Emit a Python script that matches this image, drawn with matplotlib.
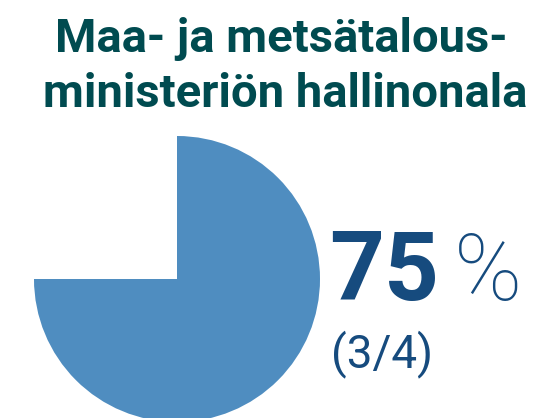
import matplotlib.pyplot as plt

plt.rcParams['font.family'] = ['Roboto', 'DejaVu Sans']

title_lines = ["Maa- ja metsätalous-", "ministeriön hallinonala"]
filled = 3
total = 4
pct_label = "75"
frac_label = "(3/4)"

W, H = 543, 418
fig = plt.figure(figsize=(W / 100, H / 100), dpi=100)

# pie axes: centre (177, 279) px, radius 143 px
cx, cy, r = 177, 279, 143
ax = fig.add_axes([(cx - r) / W, (H - cy - r) / H, 2 * r / W, 2 * r / H])
sizes = [1] * total
colors = ['#4f8dc0' if i < filled else (1, 1, 1, 0) for i in range(total)]
wedges, _ = ax.pie(sizes, colors=colors, startangle=90, counterclock=False,
                   radius=1, wedgeprops=dict(linewidth=0))
ax.set_xlim(-1, 1)
ax.set_ylim(-1, 1)
ax.axis('off')

# title
title_color = '#004b50'
fig.text(281 / W, 1 - 52 / H, title_lines[0], ha='center', va='baseline',
         fontsize=34, fontweight='bold', color=title_color)
fig.text(285 / W, 1 - 107 / H, title_lines[1], ha='center', va='baseline',
         fontsize=34, fontweight='bold', color=title_color)

# value labels
val_color = '#164b7e'
fig.text(329 / W, 1 - 300 / H, pct_label, ha='left', va='baseline',
         fontsize=69, fontweight='bold', color=val_color)
fig.text(454 / W, 1 - 300 / H, "%", ha='left', va='baseline',
         fontsize=66, fontweight='light', color=val_color)
fig.text(331 / W, 1 - 367 / H, frac_label, ha='left', va='baseline',
         fontsize=33, color=val_color)

fig.savefig('out.png', dpi=100)
